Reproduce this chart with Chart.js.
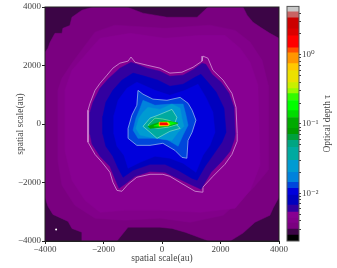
<!DOCTYPE html>
<html>
<head>
<meta charset="utf-8">
<style>
  html, body { margin: 0; padding: 0; background: #fff; }
  #wrap { position: relative; width: 337px; height: 268px; overflow: hidden; }
  canvas { position: absolute; left: 0; top: 0; }
</style>
<script src="https://cdn.jsdelivr.net/npm/chart.js@4/dist/chart.umd.min.js"></script>
</head>
<body>
<div id="wrap">
  <canvas id="map" width="337" height="268"></canvas>
  <canvas id="bar" width="337" height="268"></canvas>
</div>
<script>
// Axis ticks
const xTicks = [-4000, -2000, 0, 2000, 4000];
const yTicks = [-4000, -2000, 0, 2000, 4000];
const axisLabel = 'spatial scale(au)';
const colorbarLabel = 'Optical depth \u03c4';

// Colorbar level edges, bottom to top, and its ticks
const levels = [0.00204, 0.00249, 0.00303, 0.0037, 0.00437, 0.00533, 0.00672, 0.00936, 0.0118, 0.0144, 0.02, 0.0299, 0.0459, 0.0579, 0.0706, 0.0862, 0.124, 0.156, 0.218, 0.275, 0.324, 0.395, 0.589, 0.743, 1.069, 1.26, 1.88, 2.37, 3.41, 4.16, 4.99];
const levelColors = ['#000000', '#3c0546', '#7a0080', '#82008a', '#880092', '#3200a0', '#0000be', '#0000dc', '#0046dc', '#0082dc', '#009bd2', '#00aaa0', '#00a582', '#00a03c', '#009b00', '#00aa00', '#00dc00', '#00ff00', '#32fa00', '#96fa00', '#c8f000', '#ebe100', '#ffc800', '#ff9600', '#ff5000', '#ff0000', '#dc0000', '#cc0000', '#c86464', '#c8c8c8'];
const colorbarTicks = [0.003, 0.004, 0.005, 0.006, 0.007, 0.008, 0.009, 0.01, 0.02, 0.03, 0.04, 0.05, 0.06, 0.07, 0.08, 0.09, 0.1, 0.2, 0.3, 0.4, 0.5, 0.6, 0.7, 0.8, 0.9, 1, 2, 3, 4];

// Contour outlines in au, outermost first
const fullMap = [[-4000,4000],[4000,4000],[4000,-4000],[-4000,-4000]];
const outerBand = [[-2360,4000],[-1200,4000],[-650,3790],[170,3650],[1200,3650],[1570,4000],[2770,4000],[2910,3720],[3110,3480],[3420,3270],[3690,3100],[4000,2930],[4000,-2500],[3800,-2870],[3690,-3120],[3180,-3360],[2770,-3730],[2330,-4000],[1600,-4000],[790,-3700],[340,-3570],[-70,-3530],[-1160,-3530],[-1540,-4000],[-2740,-4000],[-2740,-3700],[-3080,-3570],[-3210,-3330],[-3730,-3090],[-3900,-2810],[-4000,-2500],[-4000,2450],[-3900,2590],[-3830,2790],[-3660,3100],[-3420,3100],[-3390,3270],[-3150,3370],[-3080,3650],[-2740,3890]];
const midBand = [[-2290,3140],[-1610,3380],[100,3270],[1640,3380],[2500,3200],[3010,2800],[3420,2180],[3630,1330],[3630,-1580],[3110,-2200],[2090,-3120],[960,-3360],[-70,-3220],[-1270,-3290],[-2290,-3220],[-2980,-2780],[-3420,-2090],[-3560,-1240],[-3560,1150],[-3420,1560],[-3080,2080]];
const innerBand = [[-2630,2350],[-2120,2930],[-1090,3100],[100,2930],[1300,3030],[2150,3030],[2670,2590],[3010,2110],[3280,1330],[3350,-1410],[3010,-2270],[2500,-2880],[1300,-3020],[-70,-2950],[-1270,-2950],[-2120,-3020],[-2630,-2610],[-3080,-1920],[-3320,-900],[-3320,1150],[-3080,1840]];
const contourOuter = [[-1060,2290],[-1160,2150],[-1440,2080],[-1680,1910],[-1880,1670],[-2120,1390],[-2290,1150],[-2460,710],[-2530,470],[-2530,-320],[-2530,-620],[-2290,-1040],[-2050,-1310],[-1780,-1650],[-1680,-1990],[-1540,-2270],[-1370,-2300],[-1160,-2060],[-860,-1820],[-410,-1720],[30,-1720],[270,-1790],[720,-2060],[1130,-2300],[1370,-2330],[1400,-2160],[1740,-1790],[2150,-1380],[2390,-1040],[2570,-590],[2570,-320],[2530,570],[2390,1050],[2090,1500],[1740,1840],[1570,2250],[1400,2320],[1370,2150],[1060,1940],[680,1770],[270,1740],[-70,1910],[-510,2010],[-920,2110]];
const indigoBand = [[-1060,2110],[-1440,1910],[-1850,1530],[-2120,1220],[-2360,740],[-2460,400],[-2460,-350],[-2390,-690],[-2120,-1100],[-1780,-1450],[-1610,-1860],[-1470,-2200],[-1270,-2060],[-920,-1790],[-410,-1620],[100,-1650],[550,-1860],[960,-2060],[1330,-2230],[1680,-1650],[2050,-1270],[2330,-930],[2460,-560],[2500,-350],[2460,570],[2290,1050],[2020,1430],[1710,1700],[1500,2040],[1370,2080],[1090,1870],[720,1670],[270,1630],[-70,1800],[-510,1910],[-860,2040]];
const darkBlueBand = [[-990,1740],[-1370,1500],[-1680,1150],[-1920,740],[-2020,270],[-2020,-350],[-1920,-760],[-1680,-1100],[-1500,-1510],[-1330,-1820],[-990,-1580],[-410,-1380],[100,-1380],[550,-1580],[1030,-1860],[1200,-1920],[1470,-1450],[1810,-970],[2050,-620],[2190,-280],[2120,540],[1850,1090],[1570,1430],[1330,1700],[1130,1600],[720,1360],[270,1290],[-140,1500],[-580,1630]];
const blueBand = [[-860,1430],[-1200,1220],[-1500,810],[-1640,300],[-1640,-350],[-1540,-760],[-1300,-1070],[-1160,-1510],[-750,-1310],[-240,-1100],[270,-1170],[720,-1340],[1160,-1650],[1400,-1070],[1640,-730],[1810,-280],[1740,400],[1500,910],[1230,1360],[790,1150],[270,980],[-240,1150]];
const contourBlue = [[-820,1150],[-650,1020],[-310,850],[170,810],[620,910],[890,710],[1030,470],[1160,130],[1030,-280],[890,-560],[850,-1170],[680,-1140],[440,-900],[30,-660],[-410,-730],[-860,-730],[-1160,-490],[-1160,-150],[-1030,300],[-860,640]];
const skyBand = [[-650,810],[-240,640],[270,680],[720,680],[820,300],[890,-40],[720,-380],[550,-760],[100,-490],[-410,-490],[-820,-490],[-990,-210],[-890,200],[-750,540]];
const cyanBand = [[-480,570],[-70,500],[340,680],[620,540],[680,200],[750,-80],[550,-280],[340,-560],[0,-520],[-410,-450],[-750,-380],[-890,-150],[-790,200],[-650,400]];
const contourTeal = [[-650,-80],[-410,200],[-140,300],[340,500],[510,230],[440,30],[620,-150],[270,-250],[-170,-490],[-410,-280]];
const contourGreen = [[-480,-40],[-240,200],[30,170],[210,130],[550,-10],[210,-110],[-140,-150],[-340,-110]];
const coreGreen = [[-480,-80],[-240,10],[30,90],[270,90],[550,30],[270,-60],[-70,-110],[-410,-150]];
const coreBright = [[-280,-70],[-140,-10],[30,80],[240,80],[480,30],[270,-40],[-70,-80]];
const coreOrange = [[-100,60],[210,60],[270,-10],[210,-70],[-100,-70]];
const coreRed = [[-70,40],[170,40],[210,-30],[-70,-30]];
const starPoint = [[-3620,-3610]];

const serif = '"Liberation Serif", "DejaVu Serif", serif';
const textColor = '#444';

// Build one filled polygon as a closed line dataset
function region(points, color, lineColor) {
    const data = points.concat([points[0]]).map(p => ({ x: p[0], y: p[1] }));
    return {
        data: data,
        showLine: true,
        fill: 'shape',
        backgroundColor: color,
        borderColor: lineColor || color,
        borderWidth: lineColor ? 0.8 : 0.5,
        pointRadius: 0,
        tension: 0
    };
}

// Listed bottom layer first, then reversed since Chart.js paints dataset 0 last
const mapDatasets = [
    region(fullMap, '#3c0546'),
    region(outerBand, '#7a0080'),
    region(midBand, '#82008a'),
    region(innerBand, '#880092'),
    region(contourOuter, '#880092', '#d498d8'),
    region(indigoBand, '#3200a0'),
    region(darkBlueBand, '#0000be'),
    region(blueBand, '#0000dc'),
    region(contourBlue, '#0046dc', '#90b4f0'),
    region(skyBand, '#0082dc'),
    region(cyanBand, '#009bd2'),
    region(contourTeal, '#00aaa0', '#70d8c8'),
    region(contourGreen, '#00b070', '#70d8a0'),
    region(coreGreen, '#00aa00'),
    region(coreBright, '#00ff00'),
    region(coreOrange, '#ffc800'),
    region(coreRed, '#ff0000'),
    {
        data: starPoint.map(p => ({ x: p[0], y: p[1] })),
        showLine: false,
        pointRadius: 1,
        pointBorderWidth: 0,
        pointBackgroundColor: '#ffffff'
    }
].reverse();

function axisText(value) {
    return String(value).replace('-', '\u2212');
}

// Frame around the plot area
const framePlugin = {
    id: 'frame',
    afterDraw(chart, args, opts) {
        const { ctx, chartArea: a } = chart;
        ctx.save();
        ctx.strokeStyle = opts.color;
        ctx.lineWidth = 1;
        ctx.strokeRect(a.left, a.top, a.right - a.left, a.bottom - a.top);
        ctx.restore();
    }
};

// Chart.js turns right-hand titles clockwise, this one reads upward
const barTitlePlugin = {
    id: 'barTitle',
    afterDraw(chart) {
        const { ctx, chartArea: a } = chart;
        ctx.save();
        ctx.translate(327, (a.top + a.bottom) / 2);
        ctx.rotate(-Math.PI / 2);
        ctx.font = '9.5px ' + serif;
        ctx.fillStyle = textColor;
        ctx.textAlign = 'center';
        ctx.textBaseline = 'middle';
        ctx.fillText(colorbarLabel, 0, 0);
        ctx.restore();
    }
};

new Chart(document.getElementById('map'), {
    type: 'scatter',
    data: { datasets: mapDatasets },
    plugins: [framePlugin],
    options: {
        responsive: false,
        animation: false,
        layout: { padding: { left: 0, right: 58, top: 7, bottom: 0 } },
        plugins: {
            legend: { display: false },
            tooltip: { enabled: false },
            frame: { color: '#222' }
        },
        scales: {
            x: {
                type: 'linear',
                min: -4000,
                max: 4000,
                afterFit: s => { s.height = 27; },
                afterBuildTicks: s => { s.ticks = xTicks.map(v => ({ value: v })); },
                grid: { drawOnChartArea: false, tickLength: 3, tickColor: '#222' },
                border: { color: '#222' },
                ticks: {
                    autoSkip: false, maxRotation: 0, padding: 0,
                    color: textColor, font: { family: serif, size: 9 },
                    callback: axisText
                },
                title: {
                    display: true, text: axisLabel, color: textColor,
                    padding: { top: 0, bottom: 4 },
                    font: { family: serif, size: 9.5 }
                }
            },
            y: {
                type: 'linear',
                min: -4000,
                max: 4000,
                afterFit: s => { s.width = 45; },
                afterBuildTicks: s => { s.ticks = yTicks.map(v => ({ value: v })); },
                grid: { drawOnChartArea: false, tickLength: 3, tickColor: '#222' },
                border: { color: '#222' },
                ticks: {
                    autoSkip: false, padding: 1,
                    color: textColor, font: { family: serif, size: 9 },
                    callback: axisText
                },
                title: {
                    display: true, text: axisLabel, color: textColor,
                    padding: { top: 15, bottom: 0 },
                    font: { family: serif, size: 9.5 }
                }
            }
        }
    }
});

const powerLabels = { 1: '10\u2070', 0.1: '10\u207b\u00b9', 0.01: '10\u207b\u00b2' };

new Chart(document.getElementById('bar'), {
    type: 'bar',
    data: {
        labels: ['tau'],
        datasets: levelColors.map((c, i) => ({
            data: [[levels[i], levels[i + 1]]],
            backgroundColor: c,
            borderWidth: 0,
            barPercentage: 1,
            categoryPercentage: 1
        }))
    },
    plugins: [framePlugin, barTitlePlugin],
    options: {
        responsive: false,
        animation: false,
        layout: { padding: { left: 287, right: 0, top: 6, bottom: 27 } },
        plugins: {
            legend: { display: false },
            tooltip: { enabled: false },
            frame: { color: '#555' }
        },
        scales: {
            x: { display: false, stacked: true },
            y: {
                type: 'logarithmic',
                position: 'right',
                min: levels[0],
                max: levels[levels.length - 1],
                afterFit: s => { s.width = 38; },
                afterBuildTicks: s => { s.ticks = colorbarTicks.map(v => ({ value: v })); },
                grid: { drawOnChartArea: false, tickLength: 2, tickColor: '#444' },
                border: { display: false },
                ticks: {
                    autoSkip: false, padding: 1,
                    color: textColor, font: { family: serif, size: 9 },
                    callback: v => powerLabels[v] || ''
                }
            }
        }
    }
});
</script>
</body>
</html>
